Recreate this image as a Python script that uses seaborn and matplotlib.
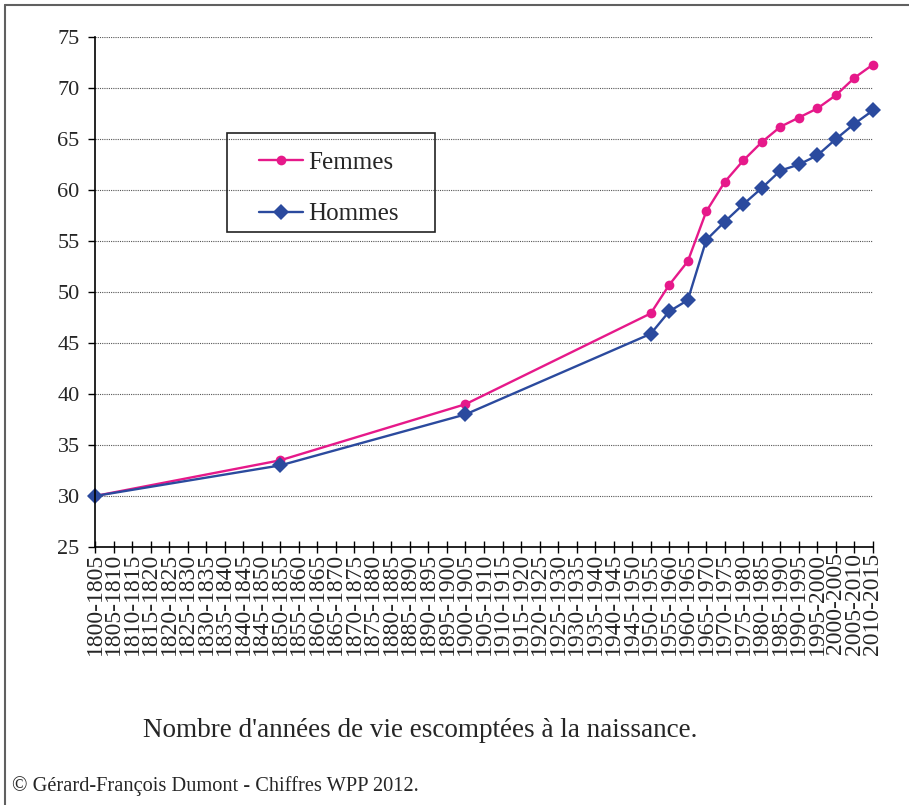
import pandas as pd
import matplotlib.pyplot as plt
import matplotlib.lines as mlines
import matplotlib.patches as mpatches
import seaborn as sns

# All the five-year periods on the x axis
CATEGORIES = [
    "1800-1805", "1805-1810", "1810-1815", "1815-1820", "1820-1825", "1825-1830",
    "1830-1835", "1835-1840", "1840-1845", "1845-1850", "1850-1855", "1855-1860",
    "1860-1865", "1865-1870", "1870-1875", "1875-1880", "1880-1885", "1885-1890",
    "1890-1895", "1895-1900", "1900-1905", "1905-1910", "1910-1915", "1915-1920",
    "1920-1925", "1925-1930", "1930-1935", "1935-1940", "1940-1945", "1945-1950",
    "1950-1955", "1955-1960", "1960-1965", "1965-1970", "1970-1975", "1975-1980",
    "1980-1985", "1985-1990", "1990-1995", "1995-2000", "2000-2005", "2005-2010",
    "2010-2015",
]

# Periods that actually have a value
PERIODS = [
    "1800-1805", "1850-1855", "1900-1905", "1950-1955", "1955-1960", "1960-1965",
    "1965-1970", "1970-1975", "1975-1980", "1980-1985", "1985-1990", "1990-1995",
    "1995-2000", "2000-2005", "2005-2010", "2010-2015",
]
FEMMES = [30.0, 33.5, 39.0, 47.9, 50.7, 53.0, 57.9, 60.8, 62.9, 64.7, 66.2, 67.1,
          68.0, 69.3, 71.0, 72.3]
HOMMES = [30.0, 33.0, 38.0, 45.9, 48.1, 49.2, 55.1, 56.9, 58.6, 60.2, 61.9, 62.5,
          63.4, 65.0, 66.5, 67.8]

Y_TICKS = [25, 30, 35, 40, 45, 50, 55, 60, 65, 70, 75]

PINK = "#E6198A"
BLUE = "#2B4A9E"

sns.set_style("white")
plt.rcParams['font.family'] = ['Liberation Serif', 'DejaVu Serif']


def main():
    df = pd.DataFrame({
        'pos': [CATEGORIES.index(p) for p in PERIODS],
        'Femmes': FEMMES,
        'Hommes': HOMMES,
    })

    fig = plt.figure(figsize=(9.09, 8.05), dpi=100)
    ax = fig.add_axes([95 / 909, 1 - 547 / 805, 778 / 909, 510 / 805])

    sns.lineplot(data=df, x='pos', y='Femmes', ax=ax, color=PINK, lw=1.7,
                 marker='o', markersize=7, markeredgewidth=0, clip_on=False)
    sns.lineplot(data=df, x='pos', y='Hommes', ax=ax, color=BLUE, lw=1.7,
                 marker='D', markersize=8.5, markeredgewidth=0, clip_on=False)

    ax.set_xlim(0, len(CATEGORIES) - 1)
    ax.set_ylim(25, 75)
    ax.set_yticks(Y_TICKS)
    ax.set_xticks(range(len(CATEGORIES)))
    ax.set_xticklabels(CATEGORIES, rotation=90, fontsize=17)
    ax.tick_params(axis='y', labelsize=16, direction='out', length=5, width=1,
                   color='black', pad=6, left=True)
    ax.tick_params(axis='x', direction='inout', length=8, width=1,
                   color='black', pad=0, bottom=True)
    ax.set_xlabel('')
    ax.set_ylabel('')

    ax.yaxis.grid(True, linestyle=(0, (1, 1)), color='#555555', lw=0.8)
    ax.xaxis.grid(False)
    sns.despine(ax=ax)
    for side in ['left', 'bottom']:
        ax.spines[side].set_color('black')
        ax.spines[side].set_linewidth(1.2)

    # Legend, drawn without frame and with a separate box around it
    handles = [
        mlines.Line2D([], [], color=PINK, lw=1.7, marker='o', markersize=7, markeredgewidth=0),
        mlines.Line2D([], [], color=BLUE, lw=1.7, marker='D', markersize=8.5, markeredgewidth=0),
    ]
    ax.legend(handles, ['Femmes', 'Hommes'], loc='center', frameon=False,
              bbox_to_anchor=((329 - 95) / 778, (547 - 188.5) / 510),
              fontsize=18, handlelength=1.75, handletextpad=0.2, labelspacing=1.15)
    box = mpatches.Rectangle(((227 - 95) / 778, (547 - 232) / 510), 208 / 778, 99 / 510,
                             transform=ax.transAxes, fill=False, edgecolor='#222222', lw=1.2)
    ax.add_patch(box)

    fig.text(420 / 909, 1 - 730 / 805, "Nombre d'années de vie escomptées à la naissance.",
             ha='center', va='center', fontsize=19.5)
    fig.text(12 / 909, 1 - 786 / 805, "© Gérard-François Dumont - Chiffres WPP 2012.",
             ha='left', va='center', fontsize=14.7)

    # Frame lines on the top and left edges of the picture
    fig.add_artist(mlines.Line2D([5 / 909, 1], [1 - 5 / 805, 1 - 5 / 805],
                                 transform=fig.transFigure, color='#606060', lw=1.5))
    fig.add_artist(mlines.Line2D([5 / 909, 5 / 909], [0, 1 - 5 / 805],
                                 transform=fig.transFigure, color='#606060', lw=1.5))

    fig.savefig('out.png', dpi=100)
    plt.close(fig)


if __name__ == "__main__":
    main()
